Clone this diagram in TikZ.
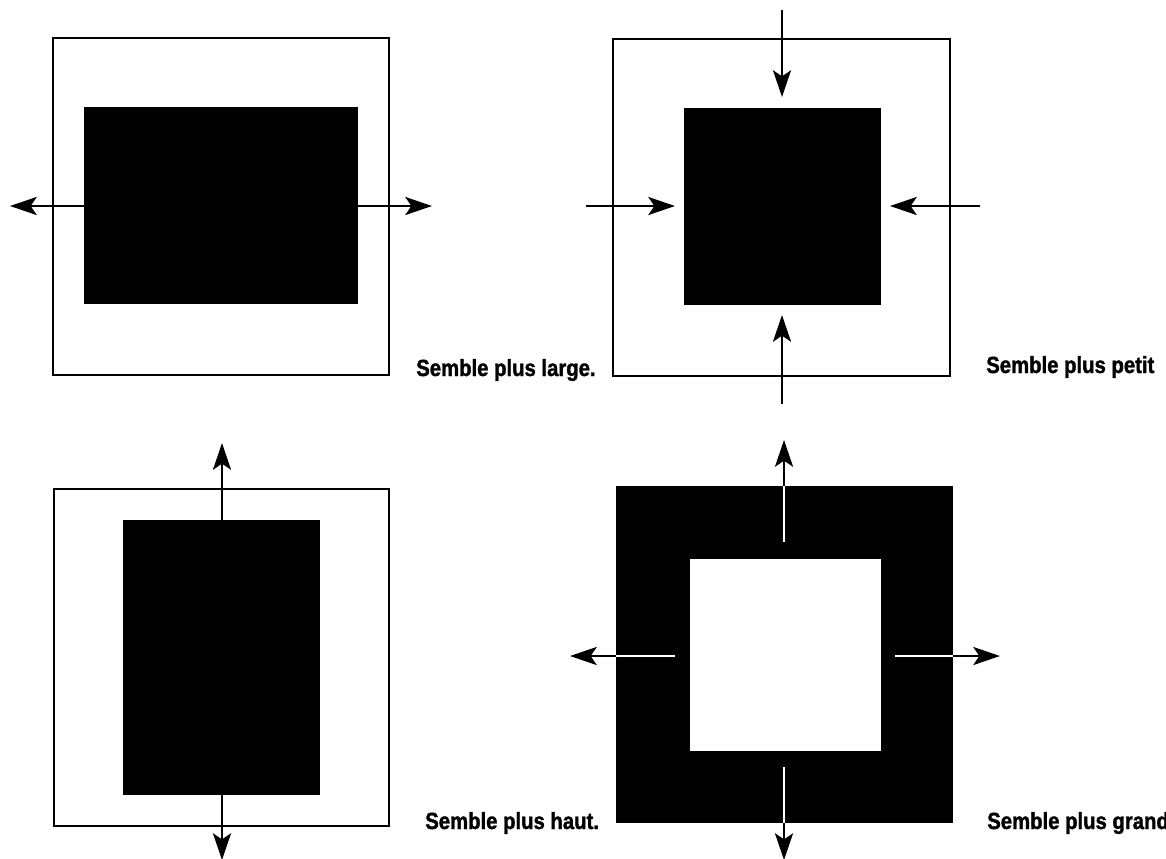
\documentclass[tikz,border=0pt]{standalone}
\usepackage{fontspec}
\setmainfont{Liberation Sans}[FakeStretch=0.87,BoldFeatures={FakeBold=1.5}]
\usetikzlibrary{arrows.meta}
\begin{document}
\begin{tikzpicture}[x=0.75pt,y=-0.75pt,
  frame/.style={draw=black,line width=2pt},
  solid box/.style={fill=black},
  arr/.style={line width=1.9pt,-{Stealth[length=20pt,width=13.5pt,inset=4.5pt]}},
  wline/.style={draw=white,line width=2pt},
  lab/.style={anchor=base west,inner sep=0pt,font=\fontsize{17.5pt}{20pt}\selectfont\bfseries}]
\useasboundingbox (0,0) rectangle (1166,858);
% ---------- panel 1
\coordinate (f1a) at (53,38); \coordinate (f1b) at (389,375);
\coordinate (b1a) at (84,107); \coordinate (b1b) at (358,304);
\draw[frame] (f1a) rectangle (f1b);
\fill[solid box] (b1a) rectangle (b1b);
\coordinate (p1l) at (84,206); \coordinate (p1lt) at (10,206);
\coordinate (p1r) at (358,206); \coordinate (p1rt) at (432,206);
\draw[arr] (p1l) -- (p1lt);
\draw[arr] (p1r) -- (p1rt);
\node[lab] (t1) at (416,376) {Semble plus large.};
% ---------- panel 2
\coordinate (f2a) at (613,39); \coordinate (f2b) at (950,376);
\coordinate (b2a) at (684,108); \coordinate (b2b) at (881,305);
\draw[frame] (f2a) rectangle (f2b);
\fill[solid box] (b2a) rectangle (b2b);
\coordinate (p2t) at (782,10); \coordinate (p2tt) at (782,97);
\coordinate (p2b) at (782,404); \coordinate (p2bt) at (782,315);
\coordinate (p2l) at (586,206); \coordinate (p2lt) at (675,206);
\coordinate (p2r) at (980,206); \coordinate (p2rt) at (890,206);
\draw[arr] (p2t) -- (p2tt);
\draw[arr] (p2b) -- (p2bt);
\draw[arr] (p2l) -- (p2lt);
\draw[arr] (p2r) -- (p2rt);
\node[lab] (t2) at (986,373) {Semble plus petit};
% ---------- panel 3
\coordinate (f3a) at (54,489); \coordinate (f3b) at (389,826);
\coordinate (b3a) at (123,520); \coordinate (b3b) at (320,795);
\draw[frame] (f3a) rectangle (f3b);
\fill[solid box] (b3a) rectangle (b3b);
\coordinate (p3u) at (222,520); \coordinate (p3ut) at (222,443);
\coordinate (p3d) at (222,795); \coordinate (p3dt) at (222,860);
\draw[arr] (p3u) -- (p3ut);
\draw[arr] (p3d) -- (p3dt);
\node[lab] (t3) at (425,829) {Semble plus haut.};
% ---------- panel 4
\coordinate (b4a) at (616,486); \coordinate (b4b) at (953,823);
\coordinate (w4a) at (690,559); \coordinate (w4b) at (881,751);
\fill[solid box] (b4a) rectangle (b4b);
\fill[white] (w4a) rectangle (w4b);
% up
\coordinate (p4u0) at (784,542); \coordinate (p4u1) at (784,486); \coordinate (p4ut) at (784,440);
\draw[wline] (p4u0) -- (p4u1);
\draw[arr] (p4u1) -- (p4ut);
% down
\coordinate (p4d0) at (784,767); \coordinate (p4d1) at (784,823); \coordinate (p4dt) at (784,860);
\draw[wline] (p4d0) -- (p4d1);
\draw[arr] (p4d1) -- (p4dt);
% left
\coordinate (p4l0) at (675,656); \coordinate (p4l1) at (616,656); \coordinate (p4lt) at (570,656);
\draw[wline] (p4l0) -- (p4l1);
\draw[arr] (p4l1) -- (p4lt);
% right
\coordinate (p4r0) at (895,656); \coordinate (p4r1) at (953,656); \coordinate (p4rt) at (1000,656);
\draw[wline] (p4r0) -- (p4r1);
\draw[arr] (p4r1) -- (p4rt);
\node[lab] (t4) at (987,829) {Semble plus grand};
\end{tikzpicture}
\end{document}
